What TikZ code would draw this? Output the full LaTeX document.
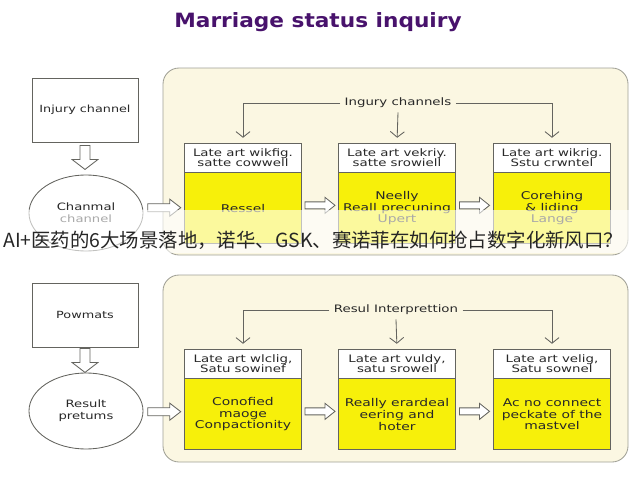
\documentclass[tikz,border=0pt]{standalone}
\usepackage{fontspec}
\setmainfont{DejaVu Sans}
\newfontfamily\widefont[FakeStretch=1.3]{DejaVu Sans}
\newfontfamily\titlefont[FakeStretch=1.1]{DejaVu Sans}
\newfontfamily\cjkfont{Noto Sans CJK SC}
\usetikzlibrary{arrows.meta,calc,positioning,shapes.geometric}

\definecolor{paneltan}{RGB}{251,247,226}
\definecolor{panelline}{RGB}{160,160,150}
\definecolor{boxyellow}{RGB}{247,240,10}
\definecolor{boxline}{RGB}{100,100,95}
\definecolor{textgray}{RGB}{40,40,40}
\definecolor{titlepurple}{RGB}{72,18,108}

\tikzset{
  leftbox/.style={draw=boxline, fill=white, line width=0.6pt, minimum width=2.65cm, minimum height=1.6cm,
    font=\widefont\fontsize{7}{8.5}\selectfont, text=textgray},
  leftoval/.style={ellipse, draw=boxline, fill=white, line width=0.6pt, minimum width=2.85cm, minimum height=1.9cm,
    align=center, inner sep=0pt, font=\widefont\fontsize{7.2}{8.6}\selectfont, text=textgray},
  panel/.style={draw=panelline, fill=paneltan, line width=0.6pt, rounded corners=0.4cm},
  headbox/.style={draw=boxline, fill=white, line width=0.6pt, minimum width=2.925cm, minimum height=0.725cm,
    align=center, inner sep=1pt, font=\widefont\fontsize{7.3}{7.4}\selectfont, text=textgray},
  bodybox/.style={draw=boxline, fill=boxyellow, line width=0.6pt, minimum width=2.925cm, minimum height=1.775cm,
    align=center, inner sep=1pt, font=\widefont\fontsize{7.6}{8.3}\selectfont, text=textgray},
  paneltitle/.style={fill=paneltan, inner sep=3pt, font=\widefont\fontsize{7.3}{9}\selectfont, text=textgray},
  feed/.style={draw=boxline, line width=0.6pt, -{Straight Barb[length=4pt,width=10pt]}, shorten >=0.12cm},
  arrowline/.style={draw=boxline, fill=white, line width=0.6pt, line join=miter},
  % block arrow: total length / shaft half width / shaft length / head half width
  pics/blockarr/.style n args={4}{code={
    \draw[arrowline] (0,-#2) -- (#3,-#2) -- (#3,-#4) -- (#1,0) -- (#3,#4) -- (#3,#2) -- (0,#2) -- cycle;
  }}
}

\begin{document}
\begin{tikzpicture}[x=0.025cm, y=-0.025cm]
  \useasboundingbox (0,0) rectangle (640,480);

  % title
  \node[font=\titlefont\fontsize{14}{16}\selectfont\bfseries, text=titlepurple] (title) at (318,22) {Marriage status inquiry};

  % ---------- upper part ----------
  \draw[panel] (163,68) rectangle (628,255);
  \node[leftbox] (inj) at (85,110) {Injury channel};
  \node[leftoval] (chan) at (86,213) {Chanmal\\channel};
  \pic[rotate=-90] at ($(inj.south)+(0,3)$) {blockarr={24}{5}{14}{13}};

  \node[paneltitle] (lbla) at (398,103) {Ingury channels};

  \node[headbox] (ha1) at (243,157.5) {Late art wikfig.\\satte cowwell};
  \node[headbox] (ha2) at (397,157.5) {Late art vekriy.\\satte srowiell};
  \node[headbox] (ha3) at (552,157.5) {Late art wikrig.\\Sstu crwntel};
  \node[bodybox, below=0pt of ha1] (ba1) {Ressel};
  \node[bodybox, below=0pt of ha2] (ba2) {Neelly\\Reall precuning\\Upert};
  \node[bodybox, below=0pt of ha3] (ba3) {Corehing\\\& liding\\Lange};

  \draw[feed] (lbla.west) -| (ha1.north);
  \draw[feed] (lbla.south) -- (ha2.north);
  \draw[feed] (lbla.east) -| (ha3.north);

  \pic at ($(chan.east)!0.5!(ba1.west)+(-16,-3)$) {blockarr={33}{4}{22}{8.5}};
  \pic at ($(ba1.east)!0.5!(ba2.west)+(-15,-3)$) {blockarr={30}{3.5}{20}{8}};
  \pic at ($(ba2.east)!0.5!(ba3.west)+(-15,-3)$) {blockarr={30}{3.5}{20}{8}};

  % ---------- lower part ----------
  \draw[panel] (163,275) rectangle (628,462);
  \node[leftbox] (pow) at (85,315) {Powmats};
  \node[leftoval] (res) at (86,411) {Result\\pretums};
  \pic[rotate=-90] at ($(pow.south)+(0,1)$) {blockarr={24}{5}{14}{13}};

  \node[paneltitle] (lblb) at (396,310) {Resul Interprettion};

  \node[headbox] (hb1) at (243,363.5) {Late art wlclig,\\Satu sowinef};
  \node[headbox] (hb2) at (397,363.5) {Late art vuldy,\\satu srowell};
  \node[headbox] (hb3) at (552,363.5) {Late art velig,\\Satu sownel};
  \node[bodybox, below=0pt of hb1] (bb1) {Conofied\\maoge\\Conpactionity};
  \node[bodybox, below=0pt of hb2] (bb2) {Really erardeal\\eering and\\hoter};
  \node[bodybox, below=0pt of hb3] (bb3) {Ac no connect\\peckate of the\\mastvel};

  \draw[feed] (lblb.west) -| (hb1.north);
  \draw[feed] (lblb.south) -- (hb2.north);
  \draw[feed] (lblb.east) -| (hb3.north);

  \pic at ($(res.east)!0.5!(bb1.west)+(-16,-1)$) {blockarr={33}{4}{22}{8.5}};
  \pic at ($(bb1.east)!0.5!(bb2.west)+(-15,-3)$) {blockarr={30}{3.5}{20}{8}};
  \pic at ($(bb2.east)!0.5!(bb3.west)+(-15,-3)$) {blockarr={30}{3.5}{20}{8}};

  % caption band across the upper panel
  \fill[white, opacity=0.6] (0,210) rectangle (640,253);
  \node[anchor=west, inner sep=0pt, text=black!85, font=\cjkfont\fontsize{13.8}{16}\selectfont] (band) at (3,240)
    {AI+医药的6大场景落地，诺华、GSK、赛诺菲在如何抢占数字化新风口？};
\end{tikzpicture}
\end{document}
